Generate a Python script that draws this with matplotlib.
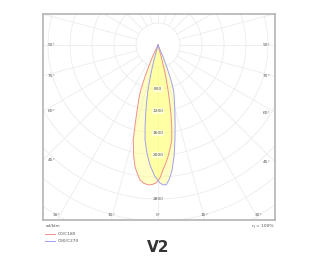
import numpy as np
import matplotlib
matplotlib.use("Agg")
import matplotlib.pyplot as plt

# ---- data (cd/klm vs gamma angle, negative = left side) ----
red_angles = [-27, -25.5, -24, -22.5, -21, -19.5, -17.7, -16, -14.6, -12.5, -10.7, -9, -7.6, -6, -4,
              -2.5, -0.8, 0.8, 2.3, 3.7, 5, 6.6, 8.2, 9.4, 10.5, 11.5, 12.5, 13.5, 14.5, 15.3, 16]
red_values = [0, 200, 350, 600, 880, 1050, 1250, 1520, 1785, 2050, 2252, 2380, 2476, 2525, 2550,
              2540, 2510, 2420, 2273, 2160, 2050, 1900, 1750, 1530, 1300, 1070, 850, 620, 400, 200, 0]
blue_angles = [-16, -15.3, -14.5, -13.5, -12.5, -11.2, -10, -8.9, -7.8, -5.8, -3.8, -1.5, 0.8, 2, 3.3,
               4.8, 6.4, 8.3, 10.1, 11.8, 13.6, 15, 16.5, 18, 19, 20.5, 22, 23.5, 25]
blue_values = [0, 200, 400, 620, 850, 1080, 1300, 1520, 1740, 1980, 2190, 2380, 2510, 2540, 2550,
               2450, 2290, 2030, 1755, 1520, 1310, 1170, 1050, 940, 864, 640, 400, 200, 0]
ring_values = [400, 800, 1200, 1600, 2000, 2400, 2800, 3200, 3600, 4000, 4400]
ring_labels = [800, 1200, 1600, 2000, 2800]
side_angles = [90, 75, 60, 45]
bottom_angles = [-30, -15, 0, 15, 30]
legend_names = ["C0/C180", "C90/C270"]

fig = plt.figure(figsize=(3.2, 2.67), dpi=100)
ax = fig.add_axes([43/320, 1 - 220/267, 232/320, 206/267])
xmin, xmax, ymin, ymax = -2091, 2127, -3182, 564
ax.set_xlim(xmin, xmax)
ax.set_ylim(ymin, ymax)
ax.set_xticks([]); ax.set_yticks([])
for s in ax.spines.values():
    s.set_color('#b4b4b4'); s.set_linewidth(1.2)

grid_c = '#ececec'
t = np.linspace(0, 2*np.pi, 400)
for r in ring_values:
    ax.plot(r*np.cos(t), r*np.sin(t), color=grid_c, lw=0.6, zorder=1)
for a in range(0, 360, 15):
    ar = np.radians(a)
    ax.plot([400*np.sin(ar), 6000*np.sin(ar)], [-400*np.cos(ar), -6000*np.cos(ar)], color=grid_c, lw=0.6, zorder=1)

def xy(angles, vals):
    g = np.radians(angles)
    v = np.array(vals, dtype=float)
    return v*np.sin(g), -v*np.cos(g)

for ang, val, col in [(red_angles, red_values, '#f09090'), (blue_angles, blue_values, '#a0a0f0')]:
    x, y = xy(ang, val)
    ax.fill(x, y, color='#ffff70', alpha=0.4, lw=0, zorder=2)
    ax.plot(x, y, color=col, lw=0.7, zorder=3)

fs = 3.2
tc = '#555555'
for r in ring_labels:
    ax.text(0, -r, str(r), fontsize=fs, color=tc, ha='center', va='center', zorder=5,
            bbox=dict(boxstyle='square,pad=0.15', fc='white', ec='none', alpha=0.6))
for a in side_angles:
    yv = -abs(xmin)/np.tan(np.radians(a)) if a != 90 else 0
    ax.text(xmin + 80, yv, f"{a}°", fontsize=fs, color=tc, ha='left', va='center', zorder=5)
    yv = -abs(xmax)/np.tan(np.radians(a)) if a != 90 else 0
    ax.text(xmax - 80, yv, f"{a}°", fontsize=fs, color=tc, ha='right', va='center', zorder=5)
for a in bottom_angles:
    xv = abs(ymin)*np.tan(np.radians(a))
    ax.text(xv, ymin + 60, f"{abs(a)}°", fontsize=fs, color=tc, ha='center', va='bottom', zorder=5)

fig.text(46/320, 1 - 226/267, "cd/klm", fontsize=fs, color=tc, ha='left', va='center')
fig.text(273/320, 1 - 226/267, "η = 100%", fontsize=fs, color=tc, ha='right', va='center')
for i, (name, col) in enumerate(zip(legend_names, ['#f09090', '#a0a0f0'])):
    yy = 1 - (234 + 7*i)/267
    fig.add_artist(plt.Line2D([45/320, 55/320], [yy, yy], color=col, lw=0.7))
    fig.text(58/320, yy, name, fontsize=fs, color=tc, ha='left', va='center')

fig.text(158/320, 1 - 248/267, "V2", fontsize=11, fontweight='bold', color='#333333', ha='center', va='center')

fig.savefig("out.png", dpi=100)
